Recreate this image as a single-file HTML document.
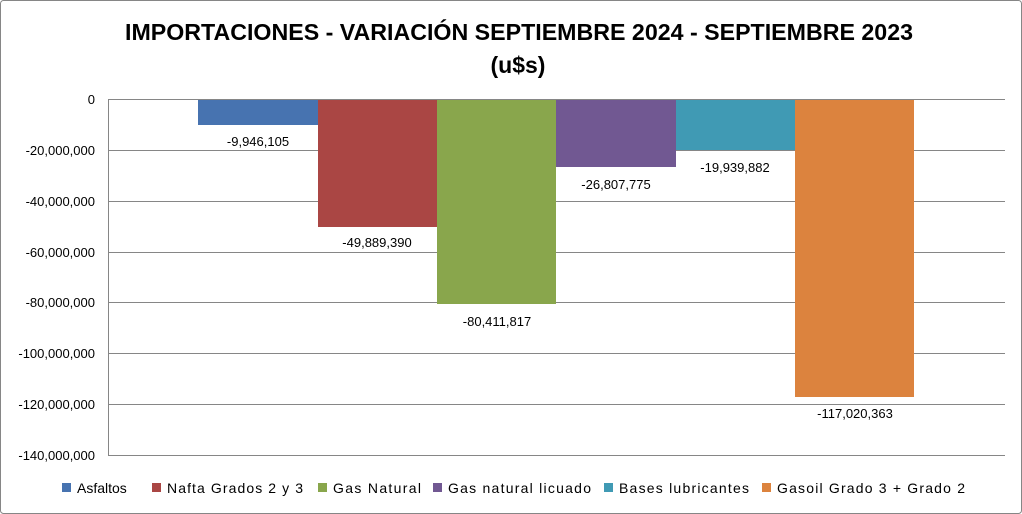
<!DOCTYPE html>
<html><head><meta charset="utf-8"><style>
body{margin:0;background:#fff}
svg{display:block}
text{font-family:"Liberation Sans",sans-serif}
</style></head><body>
<svg width="1022" height="514" viewBox="0 0 1022 514">
<rect x="0.5" y="0.5" width="1021" height="513" rx="3" fill="#fff" stroke="#868686"/>
<text x="125" y="40" font-size="23" font-weight="bold" fill="#000" textLength="788" lengthAdjust="spacingAndGlyphs">IMPORTACIONES - VARIACIÓN SEPTIEMBRE 2024 - SEPTIEMBRE 2023</text>
<text x="518" y="73" text-anchor="middle" font-size="23" font-weight="bold" fill="#000">(u$s)</text>
<g stroke="#868686" stroke-width="1">
<line x1="108" y1="99.5" x2="1005" y2="99.5"/>
<line x1="108" y1="150.5" x2="1005" y2="150.5"/>
<line x1="108" y1="201.5" x2="1005" y2="201.5"/>
<line x1="108" y1="252.5" x2="1005" y2="252.5"/>
<line x1="108" y1="302.5" x2="1005" y2="302.5"/>
<line x1="108" y1="353.5" x2="1005" y2="353.5"/>
<line x1="108" y1="404.5" x2="1005" y2="404.5"/>
<line x1="108" y1="455.5" x2="1005" y2="455.5"/>
<line x1="108.5" y1="99" x2="108.5" y2="455"/>
</g>
<g font-size="13" text-anchor="end" fill="#000">
<text x="95" y="104">0</text>
<text x="95" y="155">-20,000,000</text>
<text x="95" y="206">-40,000,000</text>
<text x="95" y="257">-60,000,000</text>
<text x="95" y="307">-80,000,000</text>
<text x="95" y="358">-100,000,000</text>
<text x="95" y="409">-120,000,000</text>
<text x="95" y="460">-140,000,000</text>
</g>
<rect x="198" y="100" width="120" height="25" fill="#4773b0"/>
<rect x="318" y="100" width="119" height="127" fill="#aa4644"/>
<rect x="437" y="100" width="119" height="204" fill="#89a64c"/>
<rect x="556" y="100" width="120" height="67" fill="#715892"/>
<rect x="676" y="100" width="119" height="50" fill="#409ab4"/>
<rect x="795" y="100" width="119" height="297" fill="#dc833e"/>
<g font-size="13" text-anchor="middle" fill="#000">
<text x="258" y="146">-9,946,105</text>
<text x="377" y="247">-49,889,390</text>
<text x="497" y="326">-80,411,817</text>
<text x="616" y="189">-26,807,775</text>
<text x="735" y="172">-19,939,882</text>
<text x="855" y="418">-117,020,363</text>
</g>
<g font-size="14" fill="#000">
<rect x="62" y="483" width="9" height="9" fill="#4773b0"/><text x="77" y="493">Asfaltos</text>
<rect x="152" y="483" width="9" height="9" fill="#aa4644"/><text x="167" y="493" textLength="136">Nafta Grados 2 y 3</text>
<rect x="318" y="483" width="9" height="9" fill="#89a64c"/><text x="333" y="493" textLength="88">Gas Natural</text>
<rect x="433" y="483" width="9" height="9" fill="#715892"/><text x="448" y="493" textLength="143">Gas natural licuado</text>
<rect x="604" y="483" width="9" height="9" fill="#409ab4"/><text x="619" y="493" textLength="130">Bases lubricantes</text>
<rect x="762" y="483" width="9" height="9" fill="#dc833e"/><text x="777" y="493" textLength="188">Gasoil Grado 3 + Grado 2</text>
</g>
</svg>
</body></html>
